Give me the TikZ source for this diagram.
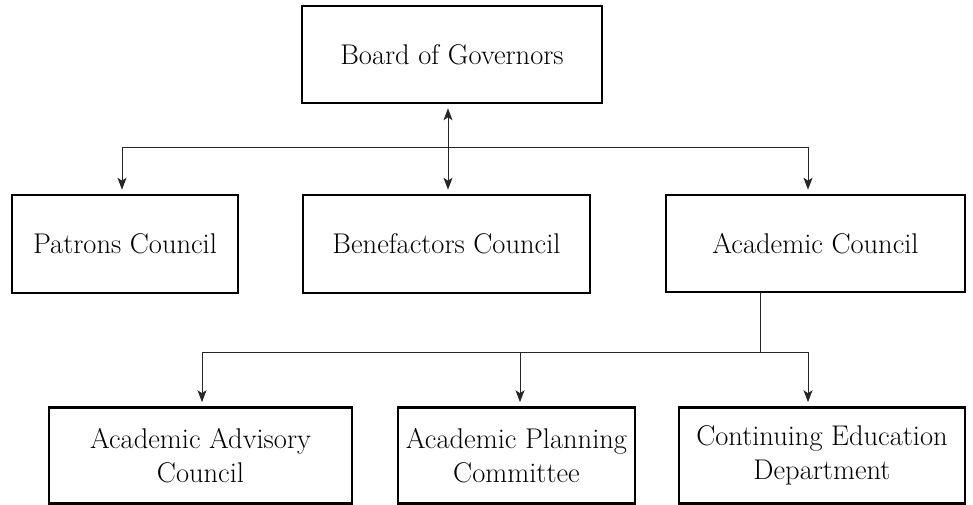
\documentclass[tikz,border=0pt]{standalone}
\usetikzlibrary{arrows.meta,calc}
\begin{document}
\begin{tikzpicture}[x=1pt,y=-1pt,
  box/.style={draw, line width=2.6pt, inner sep=0pt, align=center,
    font=\fontsize{28.5}{34.5}\selectfont},
  conn/.style={line width=0.9pt, black!85},
  tip/.style={-{Stealth[length=12pt,width=9pt,inset=3pt]}, shorten >=4pt},
  dtip/.style={{Stealth[length=12pt,width=9pt,inset=3pt]}-{Stealth[length=12pt,width=9pt,inset=3pt]}, shorten >=4pt, shorten <=4pt}]
\useasboundingbox (0,0) rectangle (973,505);
\node[box, minimum width=300pt, minimum height=97pt] (board) at (452,54.5) {Board of Governors};
\node[box, minimum width=226pt, minimum height=98pt] (patrons) at (125,244) {Patrons Council};
\node[box, minimum width=287pt, minimum height=98pt] (bene) at (446.5,244) {Benefactors Council};
\node[box, minimum width=299pt, minimum height=97pt] (acad) at (815.5,243.5) {Academic Council};
\node[box, minimum width=303pt, minimum height=96pt] (aac) at (200.5,455.5) {Academic Advisory\\Council};
\node[box, minimum width=237pt, minimum height=96pt] (apc) at (516.5,455.5) {Academic Planning\\Committee};
\node[box, minimum width=286pt, minimum height=96pt] (ced) at (822,455.5) {Continuing Education\\Department};
% top level connectors
\coordinate (t) at (448,147);
\coordinate (pl) at (122,147);
\coordinate (pr) at (808,147);
\draw[conn] (pl) -- (pr);
\draw[conn, dtip] (board.south -| t) -- (bene.north -| t);
\draw[conn, tip] (pl) -- (pl |- patrons.north);
\draw[conn, tip] (pr) -- (pr |- acad.north);
% lower level connectors
\coordinate (a) at (760,352);
\coordinate (ql) at (202,352);
\coordinate (qm) at (520,352);
\coordinate (qr) at (808,352);
\draw[conn] (acad.south -| a) -- (a);
\draw[conn] (ql) -- (qr);
\draw[conn, tip] (ql) -- (ql |- aac.north);
\draw[conn, tip] (qm) -- (qm |- apc.north);
\draw[conn, tip] (qr) -- (qr |- ced.north);
\end{tikzpicture}
\end{document}
